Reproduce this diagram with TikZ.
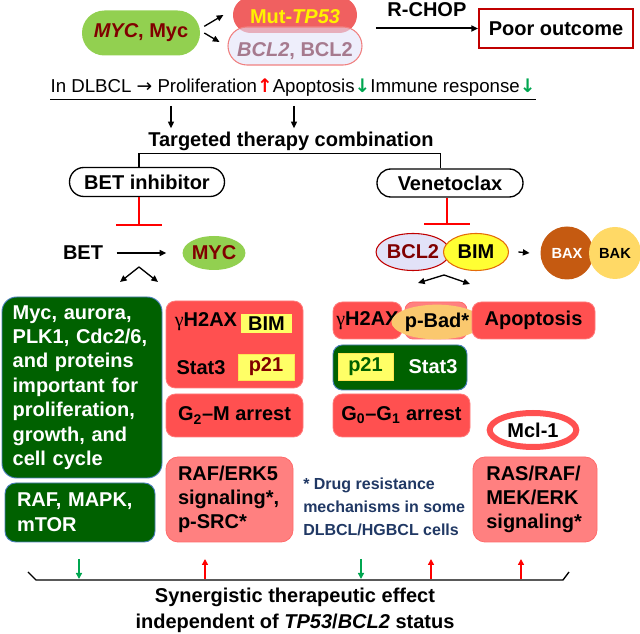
\documentclass[tikz,border=0pt]{standalone}
\usepackage{fontspec}
\setmainfont{Liberation Sans}
\newfontfamily\arrfont{DejaVu Sans}
\newfontfamily\grkfont{Liberation Serif}
\usetikzlibrary{arrows.meta,shapes.geometric}

\definecolor{mycgreen}{HTML}{92D050}
\definecolor{mycred}{HTML}{800000}
\definecolor{mutred}{HTML}{F06060}
\definecolor{lavender}{HTML}{E2E2F8}
\definecolor{bclline}{HTML}{F08080}
\definecolor{bcltext}{HTML}{A67A8E}
\definecolor{poorred}{HTML}{C00000}
\definecolor{boxred}{HTML}{FF5050}
\definecolor{lightred}{HTML}{FF8080}
\definecolor{darkgreen}{HTML}{006100}
\definecolor{steelblue}{HTML}{4A7EBB}
\definecolor{yellowbox}{HTML}{FFFF66}
\definecolor{bimyellow}{HTML}{FFFF33}
\definecolor{bimline}{HTML}{E46C0A}
\definecolor{baxbrown}{HTML}{C55A11}
\definecolor{bakgold}{HTML}{FFD966}
\definecolor{badorange}{HTML}{FAC86E}
\definecolor{bluetxt}{HTML}{203864}
\definecolor{arrgreen}{HTML}{00A650}

\tikzset{
  redbox/.style={draw=boxred!75!white, fill=boxred, line width=0.6pt, rounded corners=7pt},
  lredbox/.style={draw=boxred!85!white, fill=lightred, line width=0.6pt, rounded corners=9pt},
  greenbox/.style={draw=steelblue, fill=darkgreen, line width=0.7pt, rounded corners=8pt, text=white},
  ybox/.style={fill=yellowbox},
  arr/.style={-{Triangle[length=5pt,width=4.5pt]}, line width=1pt},
  inhib/.style={red, line width=1.2pt},
  uparr/.style={red, line width=1.5pt, -{Triangle[length=4.5pt,width=4.5pt]}},
  downarr/.style={arrgreen, line width=1.5pt, -{Triangle[length=4.5pt,width=4.5pt]}}
}

\begin{document}
\begin{tikzpicture}[x=0.75pt,y=0.75pt,yscale=-1,xscale=1,
    font=\bfseries\fontsize{15}{18}\selectfont, inner sep=0pt]
\useasboundingbox (0,0) rectangle (640,634);

% Top row
\node[fill=mycgreen, minimum width=88.5pt, minimum height=33.75pt, rounded corners=16.8pt, text=mycred] (myc) at (141,33) {\textit{MYC}, Myc};
\node[fill=mutred, minimum width=93pt, minimum height=27pt, rounded corners=13.4pt] (mut) at (295,15) {};
\node[text=yellow] (muttxt) at (295,17) {Mut-\textit{TP53}};
\node[draw=bclline, fill=lavender, fill opacity=0.6, line width=0.8pt, minimum width=100.5pt, minimum height=28.5pt, rounded corners=14.2pt] (bcl) at (295,46) {};
\node[text=bcltext] (bcltxt) at (295,51) {\textit{BCL2}, BCL2};
\draw[arr] ([xshift=3pt,yshift=-5pt]myc.east) -- ([xshift=-7pt]mut.west);
\draw[arr] ([xshift=3pt]myc.east) -- ([xshift=-6pt,yshift=-3pt]bcl.west);
\node[draw=poorred, line width=1.5pt, minimum width=115.5pt, minimum height=29.25pt] (poor) at (556,28.5) {Poor outcome};
\draw[arr, line width=1.5pt] ([xshift=10pt]bcl.east |- poor.west) -- node[above=8pt] (rchop) {R-CHOP} (poor.west);

% In DLBCL line
\node[font=\fontsize{14}{16}\selectfont, anchor=base] (dl) at (293,93) {In DLBCL {\arrfont →} Proliferation{\color{red}\arrfont\bfseries ↑}Apoptosis{\color{arrgreen}\arrfont\bfseries ↓}Immune response{\color{arrgreen}\arrfont\bfseries ↓}};
\draw[line width=1pt] ([yshift=5pt]dl.base west) -- ([yshift=5pt]dl.base east);

% Targeted therapy combination
\node[anchor=base] (tt) at (291,147) {Targeted therapy combination};
\coordinate (d1) at (171,106);
\coordinate (d2) at (294,106);
\draw[arr] (d1) -- ([yshift=-3pt]d1 |- tt.north);
\draw[arr] (d2) -- ([yshift=-3pt]d2 |- tt.north);

\node[draw, line width=1pt, minimum width=116.25pt, minimum height=21.75pt, rounded corners=10.8pt] (bi) at (147,182) {BET inhibitor};
\node[draw, line width=1pt, minimum width=109.5pt, minimum height=21pt, rounded corners=10.4pt] (ven) at (450,183) {Venetoclax};
\draw[line width=1pt] ([xshift=-6pt]bi.north) |- ([yshift=5pt]tt.base) -| ([xshift=-7pt]ven.north);

% Inhibition
\coordinate (tbi) at (139,225);
\coordinate (tven) at (447,224);
\draw[inhib] (tbi |- bi.south) -- (tbi);
\draw[inhib] ([xshift=-17pt]tbi) -- ([xshift=17pt]tbi);
\draw[inhib] (tven |- ven.south) -- (tven);
\draw[inhib] ([xshift=-17pt]tven) -- ([xshift=17pt]tven);

% BET -> MYC
\node (bet) at (83,253) {BET};
\node[ellipse, fill=mycgreen, minimum width=46.5pt, minimum height=25.5pt, text=mycred] (myc2) at (214,253) {MYC};
\draw[arr] ([xshift=10pt]bet.east) -- ([xshift=-12pt]myc2.west);
\coordinate (bsplit) at (139,267);
\coordinate (bleft) at (120,282);
\coordinate (bright) at (158,282);
\draw[arr] (bsplit) -- (bleft);
\draw[arr] (bsplit) -- (bright);

% BCL2/BIM -> BAX/BAK
\node[ellipse, draw=poorred, fill=lavender, line width=0.8pt, minimum width=45pt, minimum height=27.75pt, text=mycred] (bcl2e) at (413,252) {BCL2};
\node[ellipse, draw=bimline, fill=bimyellow, line width=0.8pt, minimum width=48.75pt, minimum height=27.75pt] (bime) at (476,252) {BIM};
\node[circle, fill=baxbrown, minimum size=39.75pt, text=white, font=\bfseries\fontsize{11}{13}\selectfont] (bax) at (567,253) {BAX};
\node[circle, fill=bakgold, minimum size=39pt, font=\bfseries\fontsize{11}{13}\selectfont] (bak) at (615,253) {BAK};
\draw[arr] ([xshift=7pt]bime.east) -- ([xshift=-8pt]bax.west);
\coordinate (vsplit) at (444,275);
\coordinate (vleft) at (418,283);
\coordinate (vright) at (470,284);
\draw[arr] (vsplit) -- (vleft);
\draw[arr] (vsplit) -- (vright);

% Left column
\node[greenbox, rounded corners=11pt, minimum width=120pt, minimum height=135.75pt, text width=104pt, align=left, font=\bfseries\fontsize{15}{18.3}\selectfont] (gb) at (82,387.5) {Myc, aurora,\\PLK1, Cdc2/6,\\and proteins\\important for\\proliferation,\\growth, and\\cell cycle};
\node[greenbox, minimum width=112.5pt, minimum height=44.25pt, text width=94.5pt, align=left, font=\bfseries\fontsize{15}{18.75}\selectfont] (raf) at (80,512.5) {RAF, MAPK,\\mTOR};

% Middle column
\node[redbox, minimum width=102.75pt, minimum height=65.25pt] (r1) at (234.5,344.5) {};
\node (gh1) at (206,322) {{\grkfont\mdseries γ}H2AX};
\node[ybox, minimum width=38.25pt, minimum height=14.25pt] (bim1) at (266.5,323.5) {BIM};
\node (st1) at (201,368) {Stat3};
\node[ybox, draw=yellowbox!80!orange, minimum width=42pt, minimum height=19.5pt, text=mycred] (p21a) at (266,367) {p21};
\node[redbox, minimum width=102.75pt, minimum height=32.25pt] (r2) at (234.5,415.5) {G\textsubscript{2}--M arrest};
\node[lredbox, minimum width=95.25pt, minimum height=63.75pt, text width=77.25pt, align=left] (r3) at (229.5,499.5) {RAF/ERK5\\signaling*,\\p-SRC*};

% Right column
\node[redbox, minimum width=51.75pt, minimum height=27.75pt] (r4) at (367.5,320.5) {{\grkfont\mdseries γ}H2AX};
\node[lredbox, rounded corners=6pt, minimum width=46.5pt, minimum height=27.75pt] (r5) at (436,320.5) {};
\node[ellipse, fill=badorange, minimum width=45pt, minimum height=26pt] (pbad) at (437,322) {p-Bad*};
\node[redbox, minimum width=92.25pt, minimum height=27.75pt] (r6) at (533.5,320.5) {Apoptosis};
\node[greenbox, rounded corners=7pt, minimum width=100.5pt, minimum height=33.75pt] (g2) at (400,367.5) {};
\node[ybox, draw=yellowbox!80!orange, minimum width=41.25pt, minimum height=20.25pt, text=darkgreen] (p21b) at (365.5,366.5) {p21};
\node[text=white] (st2) at (433,367) {Stat3};
\node[redbox, minimum width=102.75pt, minimum height=32.25pt] (r7) at (401.5,415.5) {G\textsubscript{0}--G\textsubscript{1} arrest};
\node[ellipse, draw=boxred, fill=white, line width=4.5pt, minimum width=65pt, minimum height=25.5pt] (mcl) at (533,430) {Mcl-1};
\node[lredbox, minimum width=93pt, minimum height=63.75pt, text width=73pt, align=left] (r8) at (535,499.5) {RAS/RAF/\\MEK/ERK\\signaling*};
\node[text=bluetxt, anchor=west, align=left, font=\bfseries\fontsize{12}{17.5}\selectfont] (note) at (303,507) {* Drug resistance\\mechanisms in some\\DLBCL/HGBCL cells};

% Bottom bracket
\coordinate (bl) at (28,572);
\coordinate (br) at (569,572);
\draw[line width=1pt] (bl) -- ++(8,8) -- (563,580) -- (br);
\draw[downarr] (79,559) -- (79,579);
\draw[uparr] (205,579) -- (205,559);
\draw[downarr] (361,559) -- (361,579);
\draw[uparr] (431,579) -- (431,559);
\draw[uparr] (521,579) -- (521,559);
\node[align=center, font=\bfseries\fontsize{15}{19.5}\selectfont] (syn) at (295,610) {Synergistic therapeutic effect\\independent of \textit{TP53}/\textit{BCL2} status};
\end{tikzpicture}
\end{document}
